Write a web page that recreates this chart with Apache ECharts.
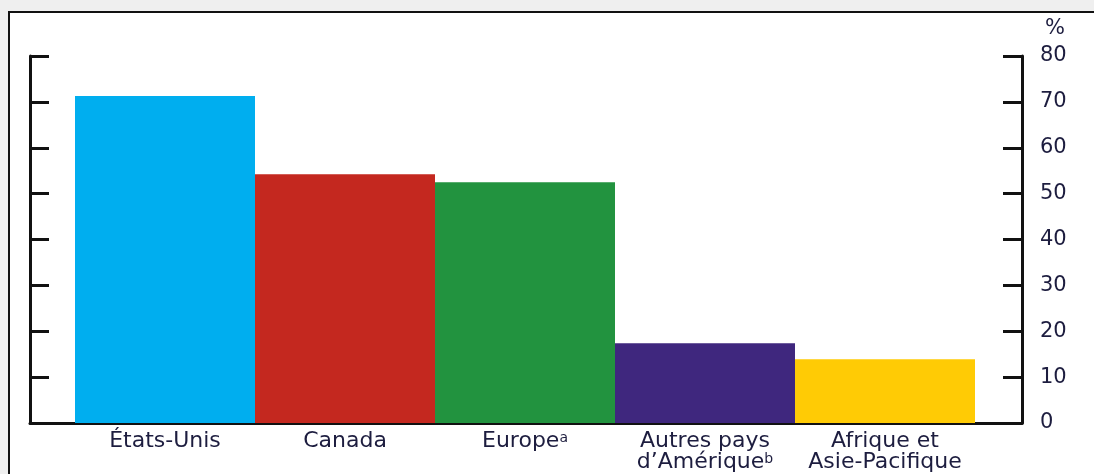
<!DOCTYPE html>
<html>
<head>
    <meta charset="UTF-8">
    <title>Bar chart</title>
    <script type="text/javascript" src="https://cdn.jsdelivr.net/npm/echarts@6/dist/echarts.min.js"></script>
</head>
<body style="margin: 0;overflow: hidden;background: #fff;width: 1094px;height: 474px;">
<div id="chart" style="width: 1094px;height: 474px"></div>
<script type="text/javascript">
    var categories = ['États-Unis', 'Canada', 'Europe', 'Autres pays\nd’Amérique', 'Afrique et\nAsie-Pacifique'];
    var notes = ['', '', 'a', 'b', ''];
    var values = [71.3, 54.2, 52.5, 17.4, 13.9];
    var colors = ['#00aeef', '#c4281f', '#22933f', '#3f277e', '#ffcb05'];
    var yTicks = [0, 10, 20, 30, 40, 50, 60, 70, 80];

    var textColor = '#1d1d3f';
    var font = '"DejaVu Sans", sans-serif';

    var chart = echarts.init(document.getElementById('chart'));
    var option = {
        backgroundColor: '#fff',
        animation: false,
        graphic: [
            {type: 'rect', shape: {x: 0, y: 0, width: 8, height: 474}, style: {fill: '#efefef'}, silent: true},
            {type: 'rect', shape: {x: 0, y: 0, width: 1094, height: 11}, style: {fill: '#efefef'}, silent: true},
            {type: 'polyline', shape: {points: [[9, 474], [9, 12], [1094, 12]]},
                style: {stroke: '#111', lineWidth: 2, fill: null}, silent: true}
        ],
        grid: [
            {left: 30, right: 72, top: 56, bottom: 51},
            {left: 75, right: 119, top: 56, bottom: 51}
        ],
        xAxis: [{
            gridIndex: 0,
            type: 'value',
            min: 0,
            max: 1,
            axisLine: {show: true, onZero: false, lineStyle: {color: '#111', width: 3}},
            axisTick: {show: false},
            axisLabel: {show: false},
            splitLine: {show: false}
        }, {
            gridIndex: 1,
            type: 'category',
            data: categories,
            axisLine: {show: false},
            axisTick: {show: false},
            splitLine: {show: false},
            axisLabel: {
                interval: 0,
                margin: 8,
                color: textColor,
                fontFamily: font,
                fontSize: 22,
                lineHeight: 21,
                formatter: function (v, i) {
                    return notes[i] ? v + '{s|' + notes[i] + '}' : v;
                },
                rich: {
                    s: {fontSize: 14, fontFamily: font, color: textColor, verticalAlign: 'top', lineHeight: 14}
                }
            }
        }],
        yAxis: [{
            gridIndex: 0,
            type: 'value',
            position: 'left',
            min: 0,
            max: 80,
            interval: 10,
            axisLine: {show: true, lineStyle: {color: '#111', width: 3}},
            axisTick: {show: true, inside: true, length: 19, lineStyle: {color: '#111', width: 3}},
            axisLabel: {show: false},
            splitLine: {show: false}
        }, {
            gridIndex: 0,
            type: 'value',
            position: 'right',
            min: 0,
            max: 80,
            interval: 10,
            name: '%',
            nameLocation: 'end',
            nameGap: 17,
            nameTextStyle: {color: textColor, fontFamily: font, fontSize: 21, align: 'left', padding: [0, 0, 0, 23]},
            axisLine: {show: true, lineStyle: {color: '#111', width: 3}},
            axisTick: {show: true, inside: true, length: 19, lineStyle: {color: '#111', width: 3}},
            axisLabel: {
                margin: 18,
                color: textColor,
                fontFamily: font,
                fontSize: 21,
                formatter: function (v) {
                    return yTicks.indexOf(v) >= 0 ? String(v) : '';
                }
            },
            splitLine: {show: false}
        }, {
            gridIndex: 1,
            type: 'value',
            min: 0,
            max: 80,
            interval: 10,
            show: false
        }],
        series: [{
            type: 'bar',
            xAxisIndex: 1,
            yAxisIndex: 2,
            barWidth: '100%',
            data: values.map(function (v, i) {
                return {value: v, itemStyle: {color: colors[i]}};
            })
        }]
    };
    chart.setOption(option);
</script>
</body>
</html>
